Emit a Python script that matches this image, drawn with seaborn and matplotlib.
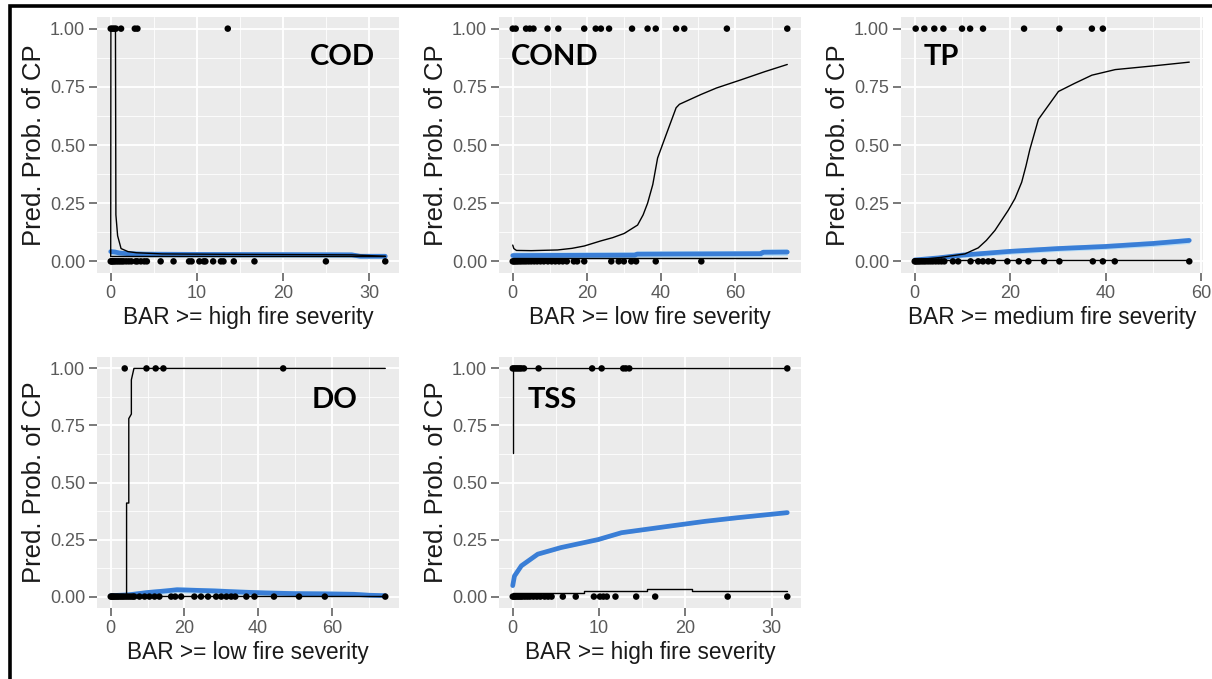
import numpy as np
import matplotlib
matplotlib.use("Agg")
import matplotlib.pyplot as plt
from matplotlib.patches import Rectangle
from matplotlib.ticker import FixedLocator
import seaborn as sns

# ---------------- data ----------------
# COD vs BAR >= high fire severity
cod_x1 = [0.0, 0.2, 0.4, 0.6, 1.2, 2.8, 3.1, 13.6]
cod_x0 = [0.0, 0.1, 0.2, 0.35, 0.5, 0.7, 0.9, 1.1, 1.3, 1.5, 1.8, 2.1, 2.4, 2.9, 3.1,
          3.5, 3.9, 4.2, 5.8, 7.3, 9.1, 9.4, 10.3, 10.8, 11.0, 11.9, 12.8, 13.1, 14.3,
          16.7, 25.0, 31.9]
cod_fit_x = [0, 0.02, 0.55, 0.6, 0.8, 1.2, 2.0, 3.0, 6.0, 15, 28, 31.9]
cod_fit_y = [0.02, 1.0, 1.0, 0.2, 0.11, 0.055, 0.042, 0.037, 0.032, 0.03, 0.028, 0.022]
cod_low_x = [0, 31.9]
cod_low_y = [0.022, 0.022]
cod_blue_x = [0, 0.5, 1.0, 2.0, 4.0, 10, 20, 28, 29, 31.9]
cod_blue_y = [0.042, 0.04, 0.036, 0.033, 0.031, 0.03, 0.029, 0.028, 0.022, 0.022]
cod_blue_lo = [0.028, 0.027, 0.024, 0.021, 0.019, 0.018, 0.017, 0.016, 0.012, 0.012]
cod_blue_hi = [0.055, 0.053, 0.048, 0.045, 0.043, 0.042, 0.041, 0.040, 0.032, 0.032]

# COND vs BAR >= low fire severity
cond_x1 = [0.0, 0.8, 3.6, 4.6, 5.6, 9.4, 12.3, 19.3, 22.4, 23.8, 26.0, 32.2, 36.4,
           38.6, 44.1, 46.3, 57.8, 74.1]
cond_x0 = [0, 0.3, 0.6, 1.0, 1.4, 1.9, 2.4, 3.0, 3.6, 4.3, 5.0, 5.8, 6.6, 7.5, 8.4,
           9.5, 10.5, 11.5, 12.5, 13.5, 14.6, 16.5, 17.4, 19.3, 26.6, 28.6, 30.0,
           32.0, 33.3, 38.6, 50.9]
cond_fit_x = [0, 0.3, 1.0, 5, 12.1, 16, 19.3, 23.8, 27, 30.1, 33.7, 35.2, 36.4, 37.8,
              39.1, 41.4, 44.1, 45, 50.8, 55, 61.6, 68, 74.1]
cond_fit_y = [0.07, 0.055, 0.047, 0.046, 0.049, 0.056, 0.066, 0.088, 0.102, 0.12,
              0.156, 0.2, 0.25, 0.33, 0.444, 0.544, 0.66, 0.675, 0.717, 0.745, 0.78,
              0.815, 0.846]
cond_low_x = [0, 74.1]
cond_low_y = [0.016, 0.016]
cond_blue_x = [0, 33, 33.5, 67, 67.5, 74.1]
cond_blue_y = [0.025, 0.027, 0.031, 0.033, 0.039, 0.04]
cond_blue_lo = [0.014, 0.015, 0.018, 0.019, 0.024, 0.025]
cond_blue_hi = [0.040, 0.041, 0.045, 0.047, 0.053, 0.054]

# TP vs BAR >= medium fire severity
tp_x1 = [0.2, 2.0, 4.1, 6.0, 9.9, 11.6, 14.3, 22.9, 30.3, 37.1, 39.4]
tp_x0 = [0, 0.2, 0.5, 0.8, 1.1, 1.5, 1.9, 2.3, 2.8, 3.3, 3.8, 4.4, 5.0, 5.6, 6.2,
         8.0, 9.1, 11.7, 13.3, 14.3, 15.4, 16.4, 19.4, 21.8, 23.8, 27.1, 30.3, 37.3,
         39.4, 41.9, 57.5]
tp_fit_x = [0, 5.5, 10.5, 13.3, 15, 16.8, 19.6, 21, 22.4, 23.3, 24.1, 25.9, 27.3,
            30.1, 33.5, 37.1, 42, 50, 57.5]
tp_fit_y = [0.006, 0.017, 0.032, 0.058, 0.09, 0.133, 0.22, 0.27, 0.34, 0.41, 0.48,
            0.61, 0.65, 0.73, 0.765, 0.80, 0.824, 0.84, 0.856]
tp_low_x = [0, 57.5]
tp_low_y = [0.004, 0.004]
tp_blue_x = [0, 5, 10, 20, 30, 40, 50, 57.5]
tp_blue_y = [0.006, 0.015, 0.027, 0.043, 0.055, 0.064, 0.077, 0.09]
tp_blue_lo = [0.0, 0.005, 0.016, 0.031, 0.043, 0.052, 0.064, 0.077]
tp_blue_hi = [0.014, 0.025, 0.038, 0.055, 0.067, 0.077, 0.090, 0.103]

# DO vs BAR >= low fire severity
do_x1 = [3.8, 9.7, 12.2, 14.3, 46.8]
do_x0 = [0, 0.3, 0.6, 0.9, 1.3, 1.7, 2.1, 2.6, 3.1, 3.6, 4.2, 4.8, 5.4, 6.0, 6.4,
         7.8, 9.2, 10.5, 11.9, 13.2, 16.4, 17.5, 19.1, 22.7, 24.5, 26.4, 28.6, 30.0,
         31.4, 32.7, 33.8, 36.8, 39.0, 44.3, 51.1, 58.1, 74.5]
do_fit_x = [0, 4.3, 4.3, 4.9, 4.9, 5.6, 5.6, 6.3, 74.5]
do_fit_y = [0, 0, 0.41, 0.41, 0.78, 0.8, 0.95, 1.0, 1.0]
do_low_x = [0, 74.5]
do_low_y = [0.004, 0.004]
do_blue_x = [0, 5, 10, 15, 18, 22, 28, 35, 42, 50, 58, 66, 70, 74.5]
do_blue_y = [0.004, 0.008, 0.018, 0.025, 0.03, 0.028, 0.025, 0.02, 0.016, 0.013,
             0.012, 0.01, 0.006, 0.004]
do_blue_lo = [0.0, 0.0, 0.006, 0.012, 0.017, 0.015, 0.012, 0.007, 0.003, 0.0, 0.0,
              0.0, 0.0, 0.0]
do_blue_hi = [0.012, 0.02, 0.03, 0.038, 0.043, 0.041, 0.038, 0.033, 0.029, 0.026,
              0.025, 0.023, 0.018, 0.014]

# TSS vs BAR >= high fire severity
tss_x1 = [0, 0.2, 0.4, 0.6, 0.8, 1.0, 1.3, 3.0, 9.2, 10.3, 12.8, 13.1, 13.5, 31.8]
tss_x0 = [0, 0.15, 0.3, 0.5, 0.7, 0.9, 1.1, 1.4, 1.7, 2.0, 2.4, 2.8, 3.2, 3.7, 4.1,
          4.5, 5.8, 7.3, 9.4, 10.1, 10.5, 10.9, 11.9, 14.3, 16.5, 24.9, 31.8]
tss_fit_x = [0, 0, 31.8]
tss_fit_y = [0.63, 1.0, 1.0]
tss_low_x = [0, 8.3, 8.3, 15.5, 15.5, 20.8, 20.8, 31.8]
tss_low_y = [0.015, 0.015, 0.025, 0.025, 0.033, 0.033, 0.026, 0.026]
tss_blue_x = [0, 0.2, 1.0, 2.9, 5.6, 9.9, 12.6, 18.4, 22.3, 26.1, 31.8]
tss_blue_y = [0.048, 0.09, 0.135, 0.186, 0.215, 0.25, 0.28, 0.31, 0.33, 0.346, 0.368]
tss_blue_lo = [0.03, 0.078, 0.126, 0.178, 0.208, 0.243, 0.273, 0.303, 0.323, 0.339, 0.36]
tss_blue_hi = [0.07, 0.102, 0.144, 0.194, 0.222, 0.257, 0.287, 0.317, 0.337, 0.353, 0.376]

y_ticks = [0.0, 0.25, 0.5, 0.75, 1.0]
y_minor = [0.125, 0.375, 0.625, 0.875]
y_ticklabels = ["0.00", "0.25", "0.50", "0.75", "1.00"]
y_title = "Pred. Prob. of CP"

# ---------------- style ----------------
sns.set_theme(style="darkgrid", rc={
    "axes.facecolor": "#EBEBEB",
    "grid.color": "white",
    "axes.edgecolor": "none",
    "figure.facecolor": "white",
})
plt.rcParams["font.family"] = ["Liberation Sans", "DejaVu Sans"]

BLUE = "#3A7ED6"
RIBBON = "#B8DDF6"

panels = [
    dict(name="COD", xlabel="BAR >= high fire severity", x0=cod_x0, x1=cod_x1,
         fit=(cod_fit_x, cod_fit_y), low=(cod_low_x, cod_low_y),
         blue=(cod_blue_x, cod_blue_y, cod_blue_lo, cod_blue_hi),
         major=[0, 10, 20, 30], minor=[5, 15, 25],
         rect=(97, 17, 302, 256), tag=(0.705, 0.844)),
    dict(name="COND", xlabel="BAR >= low fire severity", x0=cond_x0, x1=cond_x1,
         fit=(cond_fit_x, cond_fit_y), low=(cond_low_x, cond_low_y),
         blue=(cond_blue_x, cond_blue_y, cond_blue_lo, cond_blue_hi),
         major=[0, 20, 40, 60], minor=[10, 30, 50, 70],
         rect=(499, 17, 302, 256), tag=(0.040, 0.844)),
    dict(name="TP", xlabel="BAR >= medium fire severity", x0=tp_x0, x1=tp_x1,
         fit=(tp_fit_x, tp_fit_y), low=(tp_low_x, tp_low_y),
         blue=(tp_blue_x, tp_blue_y, tp_blue_lo, tp_blue_hi),
         major=[0, 20, 40, 60], minor=[10, 30, 50],
         rect=(901, 17, 302, 256), tag=(0.076, 0.844)),
    dict(name="DO", xlabel="BAR >= low fire severity", x0=do_x0, x1=do_x1,
         fit=(do_fit_x, do_fit_y), low=(do_low_x, do_low_y),
         blue=(do_blue_x, do_blue_y, do_blue_lo, do_blue_hi),
         major=[0, 20, 40, 60], minor=[10, 30, 50, 70],
         rect=(97, 357, 302, 251), tag=(0.710, 0.829)),
    dict(name="TSS", xlabel="BAR >= high fire severity", x0=tss_x0, x1=tss_x1,
         fit=(tss_fit_x, tss_fit_y), low=(tss_low_x, tss_low_y),
         blue=(tss_blue_x, tss_blue_y, tss_blue_lo, tss_blue_hi),
         major=[0, 10, 20, 30], minor=[5, 15, 25],
         rect=(499, 357, 302, 251), tag=(0.096, 0.829)),
]

W, H = 1212, 679
fig = plt.figure(figsize=(W / 100, H / 100), dpi=100)

for p in panels:
    left, top, w, h = p["rect"]
    ax = fig.add_axes([left / W, 1 - (top + h) / H, w / W, h / H])

    bx, by, blo, bhi = p["blue"]
    ax.fill_between(bx, blo, bhi, color=RIBBON, lw=0, zorder=2)
    sns.lineplot(x=bx, y=by, ax=ax, color=BLUE, lw=3.4, estimator=None,
                 sort=False, zorder=3)
    sns.lineplot(x=p["low"][0], y=p["low"][1], ax=ax, color="black", lw=1.0,
                 estimator=None, sort=False, zorder=4)
    sns.lineplot(x=p["fit"][0], y=p["fit"][1], ax=ax, color="black", lw=1.0,
                 estimator=None, sort=False, zorder=4)
    sns.scatterplot(x=p["x0"], y=np.zeros(len(p["x0"])), ax=ax, color="black",
                    s=22, edgecolor="none", zorder=5)
    sns.scatterplot(x=p["x1"], y=np.ones(len(p["x1"])), ax=ax, color="black",
                    s=22, edgecolor="none", zorder=5)

    xmax = max(max(p["x0"]), max(p["x1"]), max(bx))
    ax.set_xlim(-0.05 * xmax, 1.05 * xmax)
    ax.set_ylim(-0.05, 1.05)
    ax.set_xticks(p["major"])
    ax.set_xticklabels([str(v) for v in p["major"]])
    ax.xaxis.set_minor_locator(FixedLocator(p["minor"]))
    ax.set_yticks(y_ticks)
    ax.set_yticklabels(y_ticklabels)
    ax.yaxis.set_minor_locator(FixedLocator(y_minor))
    ax.grid(which="major", color="white", lw=1.3)
    ax.grid(which="minor", color="white", lw=0.6)
    ax.set_axisbelow(True)
    for s in ax.spines.values():
        s.set_visible(False)
    ax.tick_params(which="major", bottom=True, left=True, length=5.5, width=1.1,
                   color="#555555", labelsize=13, labelcolor="#5a5a5a", pad=3)
    ax.tick_params(which="minor", length=0)
    ax.set_xlabel(p["xlabel"], fontsize=16.3, color="#1a1a1a", labelpad=3)
    ax.set_ylabel(y_title, fontsize=18.5, color="#1a1a1a", labelpad=3)
    ax.text(p["tag"][0], p["tag"][1], p["name"], transform=ax.transAxes,
            ha="left", va="center", fontsize=21, fontweight="bold",
            family=["Lato", "DejaVu Sans"], color="black", zorder=6)
    leg = ax.get_legend()
    if leg is not None:
        leg.remove()

# frame around the whole figure
fig.patches.append(Rectangle((10 / W, -0.05), 1.2, 1 - 6 / H + 0.05,
                             transform=fig.transFigure, fill=False,
                             lw=2.6, ec="black", clip_on=False))

fig.savefig("out.png", dpi=100)
